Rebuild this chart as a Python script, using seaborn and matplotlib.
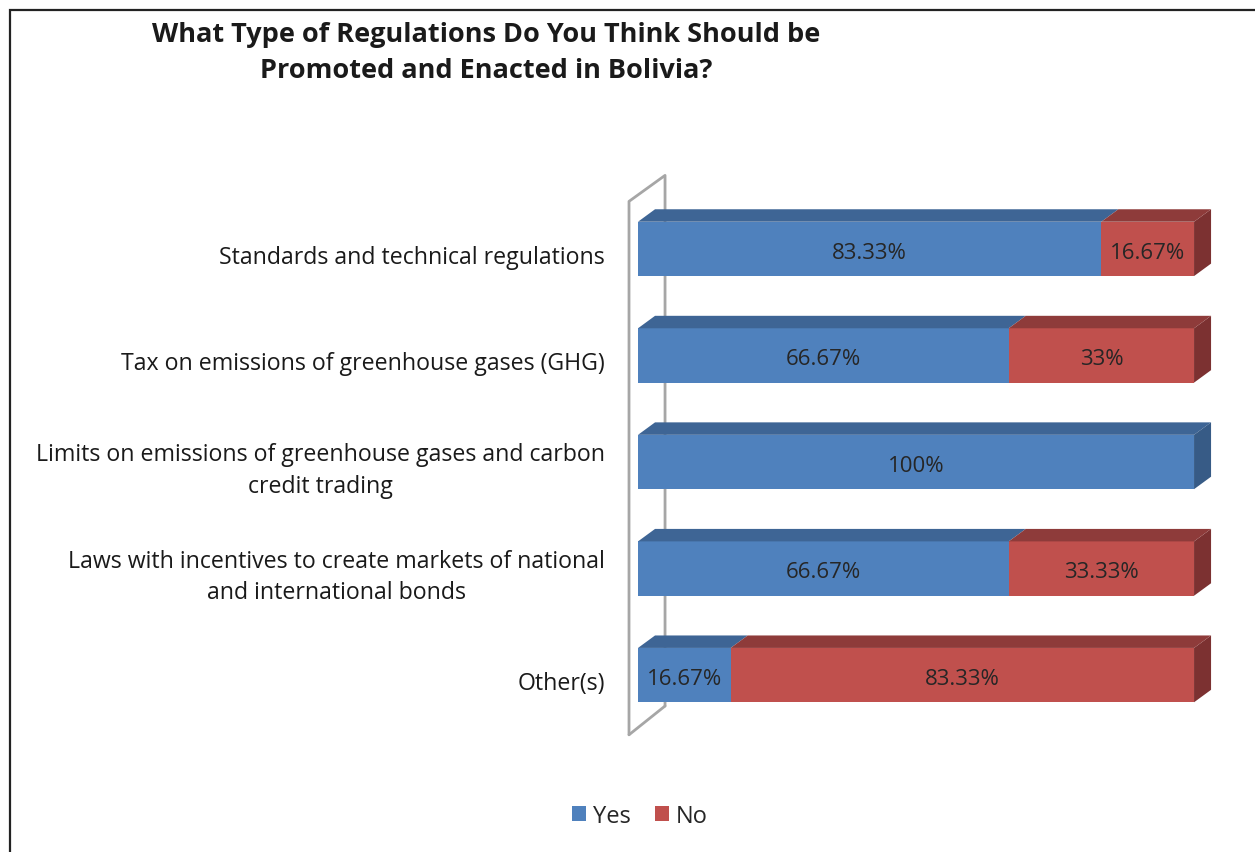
import matplotlib
matplotlib.use("Agg")
import matplotlib.pyplot as plt
import seaborn as sns
import pandas as pd
from matplotlib.patches import Polygon, Rectangle, Patch

categories = [
    "Standards and technical regulations",
    "Tax on emissions of greenhouse gases (GHG)",
    "Limits on emissions of greenhouse gases and carbon\ncredit trading",
    "Laws with incentives to create markets of national\nand international bonds",
    "Other(s)",
]
yes_values = [83.33, 66.67, 100.0, 66.67, 16.67]
no_values = [16.67, 33.33, 0.0, 33.33, 83.33]
yes_labels = ["83.33%", "66.67%", "100%", "66.67%", "16.67%"]
no_labels = ["16.67%", "33%", "", "33.33%", "83.33%"]
series = ["Yes", "No"]
title = "What Type of Regulations Do You Think Should be\nPromoted and Enacted in Bolivia?"

FONT = ["Open Sans", "DejaVu Sans"]
BLUE, BLUE_TOP, BLUE_SIDE = "#4F81BD", "#3E6595", "#375B86"
RED, RED_TOP, RED_SIDE = "#C0504D", "#8E3B3A", "#7C3131"

sns.set_theme(style="white")
plt.rcParams["font.family"] = FONT

df = pd.DataFrame({"category": categories, "yes": yes_values, "no": no_values})
df["total"] = df["yes"] + df["no"]

W, H = 1255, 853
fig = plt.figure(figsize=(W / 100, H / 100), dpi=100)
ax = fig.add_axes([626.9 / W, 1 - 772 / H, 600.5 / W, 618 / H])

bw = 0.51
sns.barplot(data=df, x="total", y="category", orient="h", color=RED,
            width=bw, saturation=1, ax=ax, zorder=3, linewidth=0)
sns.barplot(data=df, x="yes", y="category", orient="h", color=BLUE,
            width=bw, saturation=1, ax=ax, zorder=4, linewidth=0)

ax.set_xlim(-2, 106)
ax.set_ylim(4.9, -0.9)
ax.axis("off")

# back wall (3D floor of category axis)
wall_col = "#A6A6A6"
ax.plot([-1.62, -1.62, 4.86, 4.86], [4.56, -0.446, -0.69, 4.29], color=wall_col, lw=2, zorder=1)
ax.plot([-1.62, 4.86], [4.56, 4.29], color=wall_col, lw=2, zorder=1)

dx, dy = 3.06, 0.117
for i, (yv, nv) in enumerate(zip(yes_values, no_values)):
    ytop = i - bw / 2
    ybot = i + bw / 2
    segs = [(0, yv, BLUE_TOP, BLUE_SIDE)]
    if nv > 0:
        segs.append((yv, yv + nv, RED_TOP, RED_SIDE))
    for j, (x0, x1, ctop, cside) in enumerate(segs):
        ax.add_patch(Polygon([(x0, ytop), (x1, ytop), (x1 + dx, ytop - dy), (x0 + dx, ytop - dy)],
                             closed=True, facecolor=ctop, edgecolor="none", zorder=5 + j))
    x1, cside = segs[-1][1], segs[-1][3]
    ax.add_patch(Polygon([(x1, ytop), (x1 + dx, ytop - dy), (x1 + dx, ybot - dy), (x1, ybot)],
                         closed=True, facecolor=cside, edgecolor="none", zorder=5))
    # value labels
    ax.text(yv / 2, i + 0.03, yes_labels[i], ha="center", va="center", fontsize=16,
            color="#262626", zorder=10)
    if nv > 0:
        ax.text(yv + nv / 2, i + 0.03, no_labels[i], ha="center", va="center", fontsize=16,
                color="#262626", zorder=10)
    # category labels
    ax.text(-5.9, i + 0.075, categories[i], ha="right", va="center", multialignment="center",
            fontsize=16.7, color="#1a1a1a", linespacing=1.4, zorder=10)

# title
fig.text(486 / W, 1 - 53 / H, title, ha="center", va="center", fontsize=19.5,
         fontweight="bold", color="#1a1a1a", linespacing=1.48)

# legend
handles = [Patch(facecolor=BLUE, edgecolor="none"), Patch(facecolor=RED, edgecolor="none")]
fig.legend(handles, series, loc="center", bbox_to_anchor=(640 / W, 1 - 817 / H), ncol=2,
           frameon=False, handlelength=0.6, handleheight=0.6, handletextpad=0.3,
           columnspacing=1.0, fontsize=17)

# outer frame
fig.patches.append(Rectangle((10 / W, -0.1), 1.2, (1 - 11 / H) + 0.1, transform=fig.transFigure,
                             fill=False, edgecolor="#222222", lw=1.6, zorder=0))

fig.savefig("out.png", dpi=100)
